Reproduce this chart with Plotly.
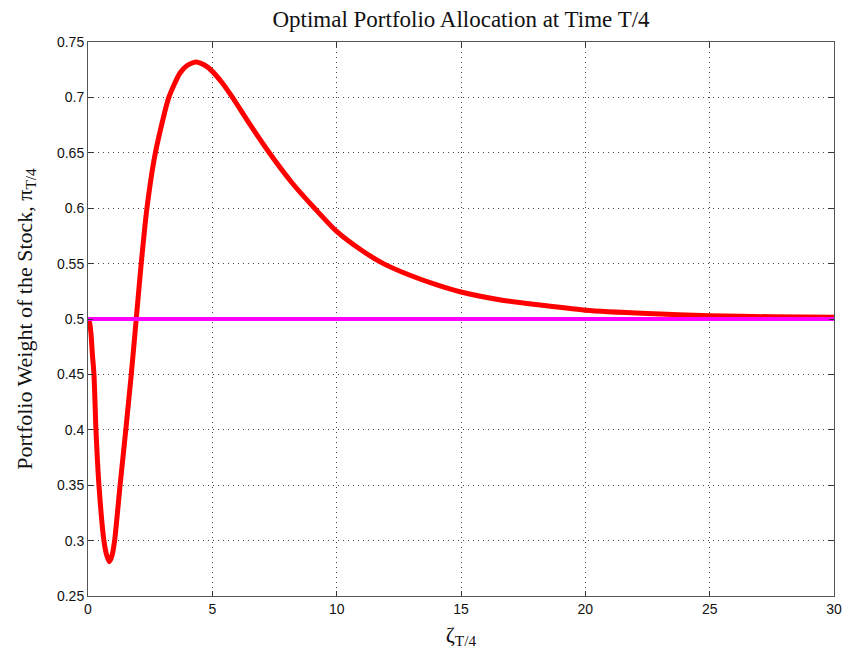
import plotly.graph_objects as go

# Optimal stock weight as a function of the state variable zeta at T/4
zeta = [0, 0.06, 0.12, 0.17, 0.24, 0.32, 0.44, 0.64, 0.75, 0.86, 0.96, 1.07,
        1.29, 1.52, 1.74, 1.94, 2.14, 2.37, 2.71, 3.25, 3.7, 4.0, 4.33, 4.7,
        5.0, 5.4, 5.81, 6.5, 7.29, 8.2, 9.11, 10, 11, 11.88, 13, 14, 15,
        16.66, 18, 20, 22.5, 25, 27.5, 30]
weight = [0.5, 0.497, 0.487, 0.47, 0.45, 0.40, 0.35, 0.30, 0.287, 0.281, 0.286, 0.30,
          0.35, 0.40, 0.45, 0.50, 0.55, 0.60, 0.65, 0.70, 0.722, 0.729, 0.732, 0.729,
          0.7235, 0.713, 0.70, 0.676, 0.65, 0.623, 0.60, 0.579, 0.562, 0.55, 0.539, 0.531, 0.5244,
          0.517, 0.513, 0.508, 0.505, 0.503, 0.502, 0.5015]

# Merton (constant) benchmark weight
merton_x = [0, 30]
merton_w = [0.5, 0.5]

x_ticks = [0, 5, 10, 15, 20, 25, 30]
y_ticks = [0.25, 0.3, 0.35, 0.4, 0.45, 0.5, 0.55, 0.6, 0.65, 0.7, 0.75]
y_labels = ["0.25", "0.3", "0.35", "0.4", "0.45", "0.5", "0.55", "0.6", "0.65", "0.7", "0.75"]

fig = go.Figure()
fig.add_trace(go.Scatter(x=zeta, y=weight, mode="lines",
                         line=dict(color="#ff0000", width=5, shape="spline", smoothing=0.6),
                         showlegend=False, hoverinfo="skip"))
fig.add_trace(go.Scatter(x=merton_x, y=merton_w, mode="lines",
                         line=dict(color="#ff00ff", width=4),
                         showlegend=False, hoverinfo="skip"))

serif = "Liberation Serif, Times New Roman, serif"
sans = "Liberation Sans, Arial, sans-serif"

axis_common = dict(
    showline=True, linecolor="#555555", linewidth=1, mirror="ticks",
    ticks="inside", ticklen=5, tickcolor="#333333",
    showgrid=True, gridcolor="#444444", griddash="1px,4px", gridwidth=1,
    zeroline=False, automargin=False,
    tickfont=dict(family=sans, size=14, color="#111111"),
)

fig.update_layout(
    width=845, height=655,
    paper_bgcolor="white", plot_bgcolor="white",
    margin=dict(l=88, r=11, t=42, b=59),
    title=dict(text="Optimal Portfolio Allocation at Time T/4",
               font=dict(family=serif, size=23, color="#111111"),
               x=(88 + 834) / 2 / 845, xanchor="center", y=1 - 19 / 655, yanchor="middle"),
    xaxis=dict(range=[0, 30], tickvals=x_ticks, ticktext=[str(v) for v in x_ticks],
               title=dict(text="ζ<sub>T/4</sub>", font=dict(family=serif, size=22, color="#111111"),
                          standoff=10),
               **axis_common),
    yaxis=dict(range=[0.25, 0.75], tickvals=y_ticks, ticktext=y_labels,
               title=dict(text="Portfolio Weight of the Stock, π<sub>T/4</sub>",
                          font=dict(family=serif, size=22, color="#111111"), standoff=18),
               **axis_common),
)

fig.write_html("out.html")
